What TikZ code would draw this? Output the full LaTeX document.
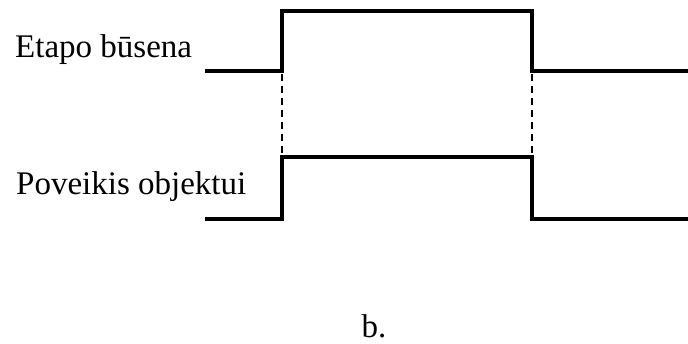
\documentclass[tikz,border=0pt]{standalone}
\usepackage{fontspec}
\setmainfont{Liberation Serif}
\usetikzlibrary{positioning}

\begin{document}
\begin{tikzpicture}[
    x=1pt, y=-1pt,
    every node/.style={
        inner sep=0pt,
        font=\fontsize{33}{40}\selectfont
    },
    signal/.style={line width=4.4pt, line join=miter},
    guide/.style={line width=1.6pt, dash pattern=on 7pt off 5pt}
]
\useasboundingbox (0,0) rectangle (688,344);
% labels
\node[anchor=base west] (etapas) at (15,58) {Etapo būsena};
\node[anchor=base west] (poveikis) at (16,195) {Poveikis objektui};
\node[anchor=base] (b) at (374,338) {b.};
% upper signal
\coordinate (e1) at (205,71);
\coordinate (e2) at (282,71);
\coordinate (e3) at (282,11);
\coordinate (e4) at (532,11);
\coordinate (e5) at (532,71);
\coordinate (e6) at (688,71);
% lower signal
\coordinate (p1) at (205,219);
\coordinate (p2) at (282,219);
\coordinate (p3) at (282,157);
\coordinate (p4) at (532,157);
\coordinate (p5) at (532,219);
\coordinate (p6) at (688,219);
\draw[signal] (e1) -- (e2) -- (e3) -- (e4) -- (e5) -- (e6);
\draw[signal] (p1) -- (p2) -- (p3) -- (p4) -- (p5) -- (p6);
\draw[guide] (e2) ++(0,3) -- (p3);
\draw[guide] (e5) ++(0,3) -- (p4);
\end{tikzpicture}
\end{document}
